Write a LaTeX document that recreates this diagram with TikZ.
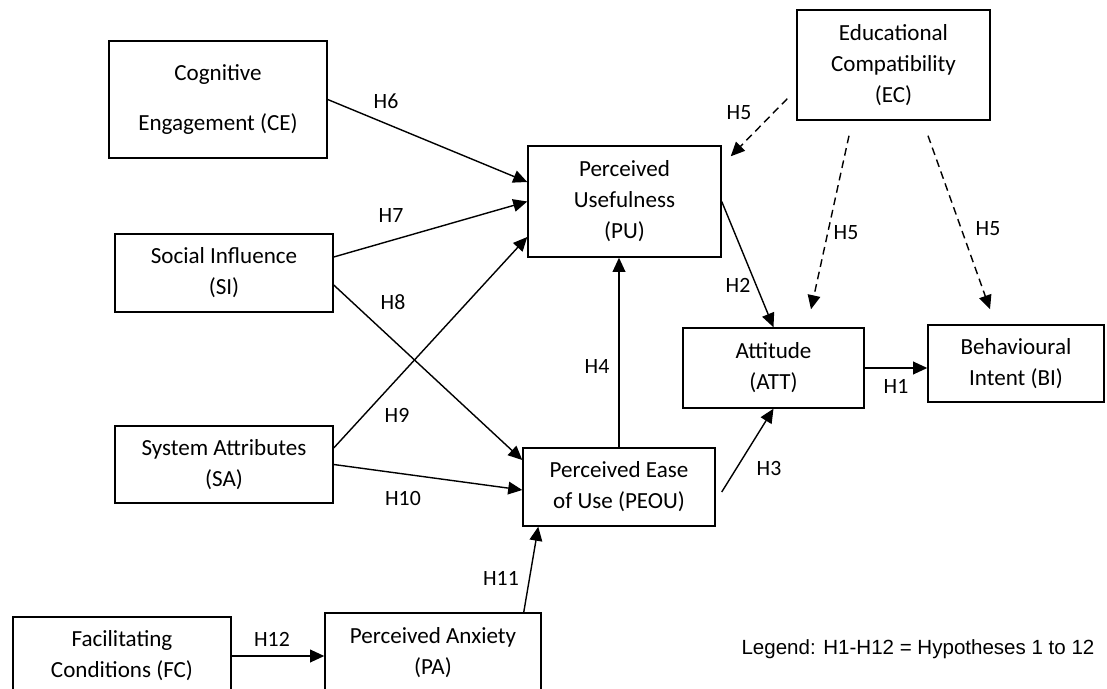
\documentclass[tikz,border=0pt]{standalone}
\usepackage{fontspec}
\setmainfont{Carlito}
\newfontfamily\legendfont{Liberation Sans}
\usetikzlibrary{arrows.meta,calc}
\begin{document}
\begin{tikzpicture}[x=0.025cm,y=-0.025cm,line width=1pt,
  box/.style={draw,rectangle,inner sep=0pt,align=center,font=\fontsize{16.4}{22}\selectfont},
  hyp/.style={inner sep=0pt,font=\fontsize{15.5}{18}\selectfont},
  link/.style={-{Triangle[length=10pt,width=9pt]}},
  modlink/.style={link,dash pattern=on 5.5pt off 3.5pt}]
\useasboundingbox (0,0) rectangle (1107,689);
\clip (0,0) rectangle (1107,689);
\node[box,minimum width=5.45cm,minimum height=2.925cm] (CE) at (218,99.5) {Cognitive\\[14pt]Engagement (CE)};
\node[box,minimum width=5.45cm,minimum height=1.95cm] (SI) at (224,273) {Social Influence\\(SI)};
\node[box,minimum width=5.45cm,minimum height=1.925cm] (SA) at (224,464.5) {System Attributes\\(SA)};
\node[box,minimum width=5.45cm,minimum height=1.95cm] (FC) at (122,656) {Facilitating\\Conditions (FC)};
\node[box,minimum width=5.4cm,minimum height=2cm] (PA) at (433,653) {Perceived Anxiety\\(PA)};
\node[box,minimum width=4.825cm,minimum height=2.775cm] (PU) at (624.5,201.5) {Perceived\\Usefulness\\(PU)};
\node[box,minimum width=4.8cm,minimum height=1.95cm] (PEOU) at (619,487) {Perceived Ease\\of Use (PEOU)};
\node[box,minimum width=4.825cm,minimum height=2.75cm] (EC) at (893.5,65) {Educational\\Compatibility\\(EC)};
\node[box,minimum width=4.525cm,minimum height=2cm] (ATT) at (773.5,368) {Attitude\\(ATT)};
\node[box,minimum width=4.4cm,minimum height=1.925cm] (BI) at (1016,363.5) {Behavioural\\Intent (BI)};
\coordinate (ECa) at ($(EC.south west)+(-9,-22)$);
\coordinate (ECb) at ($(EC.south)+(-44.5,15)$);
\coordinate (ECc) at ($(EC.south)+(34.5,15)$);
\coordinate (PUc) at ($(PU.north east)+(9,11)$);
\coordinate (ATTc) at ($(ATT.north)+(37.5,-18)$);
\coordinate (BIc) at ($(BI.north)+(-26,-15)$);
\draw[link] (CE.east) -- ($(PU.west)+(0,-19.5)$);
\draw[link] ($(SI.east)+(0,-16)$) -- (PU.west);
\draw[link] ($(SI.east)+(0,12)$) -- ($(PEOU.west)+(0,-27)$);
\draw[link] ($(SA.east)+(0,-16.5)$) -- ($(PU.west)+(0,35.5)$);
\draw[link] (SA.east) -- ($(PEOU.west)+(0,3)$);
\draw[link] ($(PA.north east)+(-18,0)$) -- ($(PEOU.south west)+(16,0)$);
\draw[link] (FC.east) -- (FC.east -| PA.west);
\draw[link] (PEOU.north) -- (PEOU.north |- PU.south);
\draw[link] ($(PEOU.east)+(6,5)$) -- (ATT.south);
\draw[link] (PU.east) -- (ATT.north);
\draw[link] (ATT.east) -- (ATT.east -| BI.west);
\draw[modlink] (ECa) -- (PUc);
\draw[modlink] (ECb) -- (ATTc);
\draw[modlink] (ECc) -- (BIc);
\node[hyp] (h1) at (896,386) {H1};
\node[hyp] (h2) at (738,285) {H2};
\node[hyp] (h3) at (769,469) {H3};
\node[hyp] (h4) at (597,367) {H4};
\node[hyp] (h5a) at (739,113) {H5};
\node[hyp] (h5b) at (846,233) {H5};
\node[hyp] (h5c) at (988,229) {H5};
\node[hyp] (h6) at (386,101) {H6};
\node[hyp] (h7) at (391,216) {H7};
\node[hyp] (h8) at (393,302) {H8};
\node[hyp] (h9) at (397,415) {H9};
\node[hyp] (h10) at (403,499) {H10};
\node[hyp] (h11) at (501,578) {H11};
\node[hyp] (h12) at (272,639) {H12};
\node[inner sep=0pt,font=\legendfont\fontsize{14.6}{17}\selectfont] (legend) at (918,649) {Legend: H1-H12 = Hypotheses 1 to 12};
\end{tikzpicture}
\end{document}
